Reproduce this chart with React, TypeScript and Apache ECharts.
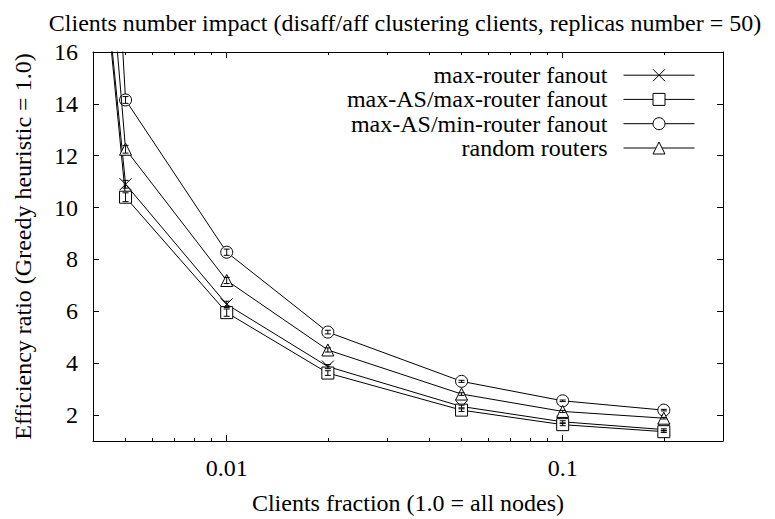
import React, { useEffect, useRef } from 'react';
import * as echarts from 'echarts';

// Clients fraction (x) and efficiency ratios (y) per heuristic
const fractions = [0.001, 0.005, 0.01, 0.02, 0.05, 0.1, 0.2];
const maxRouterFanout = [102, 10.9, 6.27, 3.87, 2.33, 1.74, 1.44];
const maxAsMaxRouterFanout = [104, 10.4, 5.95, 3.62, 2.19, 1.63, 1.36];
const maxAsMinRouterFanout = [175, 14.15, 8.28, 5.2, 3.3, 2.55, 2.19];
const randomRouters = [121, 12.25, 7.19, 4.51, 2.81, 2.14, 1.88];

// error bar half-widths
const maxRouterErr = [0, 0.15, 0.12, 0.08, 0.05, 0.04, 0.03];
const maxAsMaxRouterErr = [0, 0.17, 0.14, 0.09, 0.05, 0.04, 0.03];
const maxAsMinRouterErr = [0, 0.13, 0.12, 0.07, 0.04, 0.03, 0.03];
const randomRoutersErr = [0, 0.15, 0.12, 0.08, 0.05, 0.04, 0.03];

const seriesNames = [
  'max-router fanout',
  'max-AS/max-router fanout',
  'max-AS/min-router fanout',
  'random routers',
];

const yTicks = [2, 4, 6, 8, 10, 12, 14, 16];
const xMinorTicks = [
  0.004, 0.005, 0.006, 0.007, 0.008, 0.009,
  0.02, 0.03, 0.04, 0.05, 0.06, 0.07, 0.08, 0.09,
  0.2, 0.3,
];
const X_MIN = 0.004;
const X_MAX = 0.3;
const Y_MIN = 1;
const Y_MAX = 16;

const FONT = 'Liberation Serif';
const FS = 24;
const BLACK = '#000';

export default function App() {
  const ref = useRef<HTMLDivElement>(null);

  useEffect(() => {
    if (!ref.current) return;
    const chart = echarts.init(ref.current, undefined, { renderer: 'svg' });

    const valueSets = [maxRouterFanout, maxAsMaxRouterFanout, maxAsMinRouterFanout, randomRouters];
    const errSets = [maxRouterErr, maxAsMaxRouterErr, maxAsMinRouterErr, randomRoutersErr];
    const symbols = ['path://M0,0L10,10M10,0L0,10', 'rect', 'circle', 'triangle'];

    const lineSeries = seriesNames.map((name, i) => ({
      name,
      type: 'line',
      xAxisIndex: 0,
      yAxisIndex: 0,
      data: fractions.map((f, j) => [f, valueSets[i][j]]),
      symbol: symbols[i],
      symbolSize: 12,
      showAllSymbol: true,
      clip: true,
      lineStyle: { color: BLACK, width: 1 },
      itemStyle: { color: '#fff', borderColor: BLACK, borderWidth: 1 },
      z: 2 + i,
    }));

    const errSeries = seriesNames.map((name, i) => ({
      name: name + ' err',
      type: 'custom',
      xAxisIndex: 0,
      yAxisIndex: 0,
      silent: true,
      z: 10,
      data: fractions
        .map((f, j) => [f, valueSets[i][j], errSets[i][j]])
        .filter((d) => d[0] >= X_MIN && d[0] <= X_MAX),
      renderItem: (_params: any, api: any) => {
        const x = api.value(0);
        const y = api.value(1);
        const e = api.value(2);
        const lo = api.coord([x, y - e]);
        const hi = api.coord([x, y + e]);
        const w = 3;
        const st = { stroke: BLACK, lineWidth: 1 };
        return {
          type: 'group',
          children: [
            { type: 'line', shape: { x1: lo[0], y1: lo[1], x2: hi[0], y2: hi[1] }, style: st },
            { type: 'line', shape: { x1: lo[0] - w, y1: lo[1], x2: lo[0] + w, y2: lo[1] }, style: st },
            { type: 'line', shape: { x1: hi[0] - w, y1: hi[1], x2: hi[0] + w, y2: hi[1] }, style: st },
          ],
        };
      },
    }));

    const rowCenters = [70.7, 94.9, 119.2, 143.5];
    const legends = seriesNames.map((name, i) => ({
      data: [name],
      orient: 'vertical',
      align: 'right',
      right: 80,
      top: rowCenters[i] - 7.5,
      padding: 0,
      itemWidth: 71,
      itemHeight: 15,
      selectedMode: false,
      itemStyle: { color: '#fff', borderColor: BLACK, borderWidth: 1 },
      lineStyle: { color: BLACK, width: 1 },
      textStyle: {
        fontFamily: FONT,
        fontSize: FS,
        color: BLACK,
        lineHeight: 15,
        padding: [0, 11, 0, 0],
      },
    }));

    const lg = (v: number) => Math.log10(v);

    const option: any = {
      animation: false,
      backgroundColor: '#fff',
      title: {
        text: 'Clients number impact (disaff/aff clustering clients, replicas number = 50)',
        left: 400,
        textAlign: 'center',
        top: 6,
        textStyle: { fontFamily: FONT, fontSize: FS, fontWeight: 'normal', color: BLACK },
      },
      legend: legends,
      grid: {
        left: 93,
        right: 52,
        top: 52,
        bottom: 78,
        containLabel: false,
        outerBoundsMode: 'none',
      },
      xAxis: [
        {
          type: 'log',
          logBase: 10,
          min: X_MIN,
          max: X_MAX,
          position: 'bottom',
          name: 'Clients fraction (1.0 = all nodes)',
          nameLocation: 'middle',
          nameGap: 50,
          nameTextStyle: { fontFamily: FONT, fontSize: FS, color: BLACK },
          axisLine: { show: true, lineStyle: { color: BLACK, width: 1 } },
          axisTick: { show: true, inside: true, length: 6, lineStyle: { color: BLACK } },
          axisLabel: {
            fontFamily: FONT,
            fontSize: FS,
            color: BLACK,
            margin: 15,
            showMinLabel: false,
            showMaxLabel: false,
          },
          splitLine: { show: false },
          minorTick: { show: false },
        },
        {
          type: 'value',
          min: lg(X_MIN),
          max: lg(X_MAX),
          position: 'bottom',
          axisLine: { show: false },
          axisTick: {
            show: true,
            inside: true,
            length: 3,
            lineStyle: { color: BLACK },
            customValues: xMinorTicks.map(lg),
          },
          axisLabel: { show: false },
          splitLine: { show: false },
        },
        {
          type: 'log',
          logBase: 10,
          min: X_MIN,
          max: X_MAX,
          position: 'top',
          axisLine: { show: true, lineStyle: { color: BLACK, width: 1 } },
          axisTick: { show: true, inside: true, length: 6, lineStyle: { color: BLACK } },
          axisLabel: { show: false },
          splitLine: { show: false },
        },
        {
          type: 'value',
          min: lg(X_MIN),
          max: lg(X_MAX),
          position: 'top',
          axisLine: { show: false },
          axisTick: {
            show: true,
            inside: true,
            length: 3,
            lineStyle: { color: BLACK },
            customValues: xMinorTicks.map(lg),
          },
          axisLabel: { show: false },
          splitLine: { show: false },
        },
      ],
      yAxis: [
        {
          type: 'value',
          min: Y_MIN,
          max: Y_MAX,
          position: 'left',
          name: 'Efficiency ratio (Greedy heuristic = 1.0)',
          nameLocation: 'middle',
          nameGap: 58,
          nameTextStyle: { fontFamily: FONT, fontSize: FS, color: BLACK },
          axisLine: { show: true, lineStyle: { color: BLACK, width: 1 } },
          axisTick: {
            show: true,
            inside: true,
            length: 6,
            lineStyle: { color: BLACK },
            customValues: yTicks,
          },
          axisLabel: {
            fontFamily: FONT,
            fontSize: FS,
            color: BLACK,
            margin: 15,
            customValues: yTicks,
          },
          splitLine: { show: false },
        },
        {
          type: 'value',
          min: Y_MIN,
          max: Y_MAX,
          position: 'right',
          axisLine: { show: true, lineStyle: { color: BLACK, width: 1 } },
          axisTick: {
            show: true,
            inside: true,
            length: 6,
            lineStyle: { color: BLACK },
            customValues: yTicks,
          },
          axisLabel: { show: false },
          splitLine: { show: false },
        },
      ],
      series: [...lineSeries, ...errSeries],
    };

    chart.setOption(option);
    return () => chart.dispose();
  }, []);

  return (
    <div
      ref={ref}
      style={{ position: 'fixed', left: 0, top: 0, width: 775, height: 519, background: '#fff' }}
    />
  );
}
